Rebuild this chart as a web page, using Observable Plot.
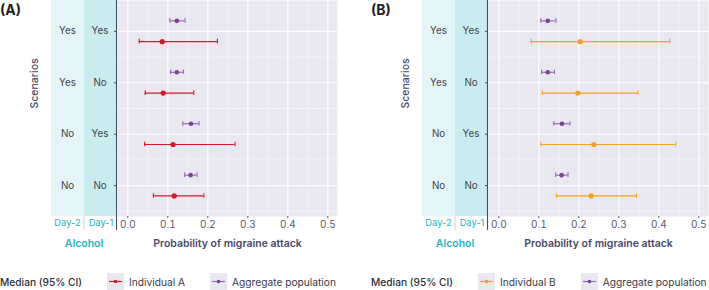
<!DOCTYPE html>
<html>
<head>
<meta charset="utf-8">
<script src="https://cdn.jsdelivr.net/npm/d3@7"></script>
<script src="https://cdn.jsdelivr.net/npm/@observablehq/plot@0.6"></script>
<style>
  html, body { margin: 0; padding: 0; background: #fff; }
  #root { position: relative; width: 709px; height: 290px; overflow: hidden; font-family: Inter, "Noto Sans", sans-serif; }
  .panel { position: absolute; top: 0; width: 340px; height: 290px; }
  .panel > svg { position: absolute; left: 0; top: 0; }
  .title { position: absolute; left: 0; top: 1px; font-size: 14px; font-weight: 700; color: #1e1e24; }
  .legend { position: absolute; left: 0; top: 273px; height: 17px; display: flex; align-items: center; font-size: 10.2px; color: #3a3a48; white-space: nowrap; }
  .legend .head { font-weight: 500; color: #2e2e3c; margin-right: 25px; }
  .legend .key { display: block; width: 17px; height: 17px; background: #e9e7ef; margin-right: 5px; }
  .legend .key svg { display: block; }
  .legend .lab { margin-right: 25px; }
</style>
</head>
<body>
<div id="root"></div>
<script>
// ---------- data ----------
const scenarioIdx = [1, 2, 3, 4];
const day2Labels = ["Yes", "Yes", "No", "No"];
const day1Labels = ["Yes", "No", "Yes", "No"];
const xTicks = [0, 0.1, 0.2, 0.3, 0.4, 0.5];
const xMinorTicks = [0.05, 0.15, 0.25, 0.35, 0.45];

const aggMed = [0.1225, 0.1225, 0.158, 0.157];
const aggLo  = [0.105, 0.107, 0.1375, 0.142];
const aggHi  = [0.143, 0.139, 0.178, 0.173];

const indAMed = [0.086, 0.0885, 0.113, 0.116];
const indALo  = [0.0285, 0.0435, 0.042, 0.064];
const indAHi  = [0.224, 0.165, 0.268, 0.19];

const indBMed = [0.2035, 0.1975, 0.2375, 0.231];
const indBLo  = [0.081, 0.1085, 0.105, 0.144];
const indBHi  = [0.427, 0.348, 0.4425, 0.344];

// ---------- styles ----------
const C = {
  bg: "#e9e7ef", strip2: "#e3f5f6", strip1: "#c9edef", cyan: "#1fb3bf",
  axis: "#4b4b63", text: "#44444f", title: "#4a4a66",
  red: "#d7182a", orange: "#f2a51c", purpleDot: "#7d4199", purpleLine: "#9a6cb5"
};
const SW = 33; // strip width

function rows(med, lo, hi) {
  return scenarioIdx.map((idx, i) => ({idx, med: med[i], lo: lo[i], hi: hi[i]}));
}
const scen = scenarioIdx.map((idx, i) => ({idx, day2: day2Labels[i], day1: day1Labels[i]}));

function errorMarks(data, dotColor, lineColor, dy, r) {
  return [
    Plot.ruleY(data, {y: "idx", x1: "lo", x2: "hi", stroke: lineColor, strokeWidth: 1.2, dy}),
    Plot.ruleX(data, {x: "lo", y1: d => d.idx - 0.045, y2: d => d.idx + 0.045, stroke: lineColor, strokeWidth: 1.1, dy}),
    Plot.ruleX(data, {x: "hi", y1: d => d.idx - 0.045, y2: d => d.idx + 0.045, stroke: lineColor, strokeWidth: 1.1, dy}),
    Plot.dot(data, {x: "med", y: "idx", dy, r, fill: dotColor, stroke: "none"})
  ];
}

function decor(index, scales, values, dims) {
  const L = dims.marginLeft, T = dims.marginTop, bottom = dims.height - dims.marginBottom;
  const g = d3.create("svg:g");
  g.append("rect").attr("x", L - 2 * SW).attr("y", T).attr("width", SW).attr("height", bottom - T).attr("fill", C.strip2);
  g.append("rect").attr("x", L - SW).attr("y", T).attr("width", SW).attr("height", bottom - T).attr("fill", C.strip1);
  g.append("line").attr("x1", L - SW).attr("x2", L - SW).attr("y1", bottom).attr("y2", bottom + 14).attr("stroke", "#d2d2da").attr("stroke-width", 1);
  g.append("line").attr("x1", L - 0.5).attr("x2", L - 0.5).attr("y1", T).attr("y2", bottom + 14).attr("stroke", C.axis).attr("stroke-width", 1.1);
  return g.node();
}

function panel(left, title, indName, indColor, ind) {
  const agg = rows(aggMed, aggLo, aggHi);
  const chart = Plot.plot({
    width: 340, height: 254,
    marginLeft: 117, marginRight: 3, marginTop: 0, marginBottom: 38,
    style: {fontFamily: "Inter, 'Noto Sans', sans-serif", background: "transparent", overflow: "visible"},
    x: {domain: [-0.0258, 0.5242]},
    y: {domain: [0.4, 4.6], reverse: true},
    marks: [
      Plot.frame({fill: C.bg, stroke: "none"}),
      Plot.gridX({ticks: xMinorTicks, stroke: "#fff", strokeOpacity: 0.75, strokeWidth: 0.6}),
      Plot.gridY({ticks: [0.5, 1.5, 2.5, 3.5, 4.5], stroke: "#fff", strokeOpacity: 0.75, strokeWidth: 0.6}),
      Plot.gridX({ticks: xTicks, stroke: "#fff", strokeOpacity: 1, strokeWidth: 1.1}),
      Plot.gridY({ticks: scenarioIdx, stroke: "#fff", strokeOpacity: 1, strokeWidth: 1.1}),
      decor,
      Plot.axisY({ticks: scenarioIdx, tickSize: 3, tickFormat: () => "", stroke: C.axis, label: null}),
      Plot.text(scen, {y: "idx", text: "day1", frameAnchor: "left", dx: -17.5, textAnchor: "middle", fontSize: 9.8, fill: C.text}),
      Plot.text(scen, {y: "idx", text: "day2", frameAnchor: "left", dx: -50, textAnchor: "middle", fontSize: 9.8, fill: C.text}),
      Plot.text(["Scenarios"], {frameAnchor: "left", dx: -82.5, rotate: -90, fontSize: 10.5, fontWeight: 500, fill: C.title}),
      Plot.axisX({ticks: xTicks, tickFormat: d3.format(".1f"), tickSize: 2, tickPadding: 2.5, fontSize: 10, color: "#5a5a70", label: null}),
      Plot.text(["Day-2"], {frameAnchor: "bottom-left", dx: -50, dy: 9.5, textAnchor: "middle", fontSize: 9.3, fill: C.cyan}),
      Plot.text(["Day-1"], {frameAnchor: "bottom-left", dx: -16.5, dy: 9.5, textAnchor: "middle", fontSize: 9.3, fill: C.cyan}),
      Plot.text(["Alcohol"], {frameAnchor: "bottom-left", dx: -33.5, dy: 30.5, textAnchor: "middle", fontSize: 10.5, fontWeight: 600, fill: C.cyan}),
      Plot.text(["Probability of migraine attack"], {frameAnchor: "bottom", dy: 30.5, fontSize: 10.5, fontWeight: 600, fill: C.title}),
      ...errorMarks(agg, C.purpleDot, C.purpleLine, -10.5, 2.3),
      ...errorMarks(ind, indColor, indColor, 10.3, 2.6)
    ]
  });
  const div = document.createElement("div");
  div.className = "panel";
  div.style.left = left + "px";
  div.appendChild(chart);
  const t = document.createElement("div");
  t.className = "title"; t.textContent = title;
  div.appendChild(t);
  const key = (col, lineCol) => `<span class="key"><svg width="17" height="17"><line x1="2" x2="15" y1="8.5" y2="8.5" stroke="${lineCol}" stroke-width="1.2"/><circle cx="8.5" cy="8.5" r="1.8" fill="${col}"/></svg></span>`;
  const lg = document.createElement("div");
  lg.className = "legend";
  lg.innerHTML = `<span class="head">Median (95% CI)</span>${key(indColor, indColor)}<span class="lab">${indName}</span>${key(C.purpleDot, C.purpleLine)}<span class="lab">Aggregate population</span>`;
  div.appendChild(lg);
  document.getElementById("root").appendChild(div);
}

panel(0, "(A)", "Individual A", C.red, rows(indAMed, indALo, indAHi));
panel(371, "(B)", "Individual B", C.orange, rows(indBMed, indBLo, indBHi));
</script>
</body>
</html>
